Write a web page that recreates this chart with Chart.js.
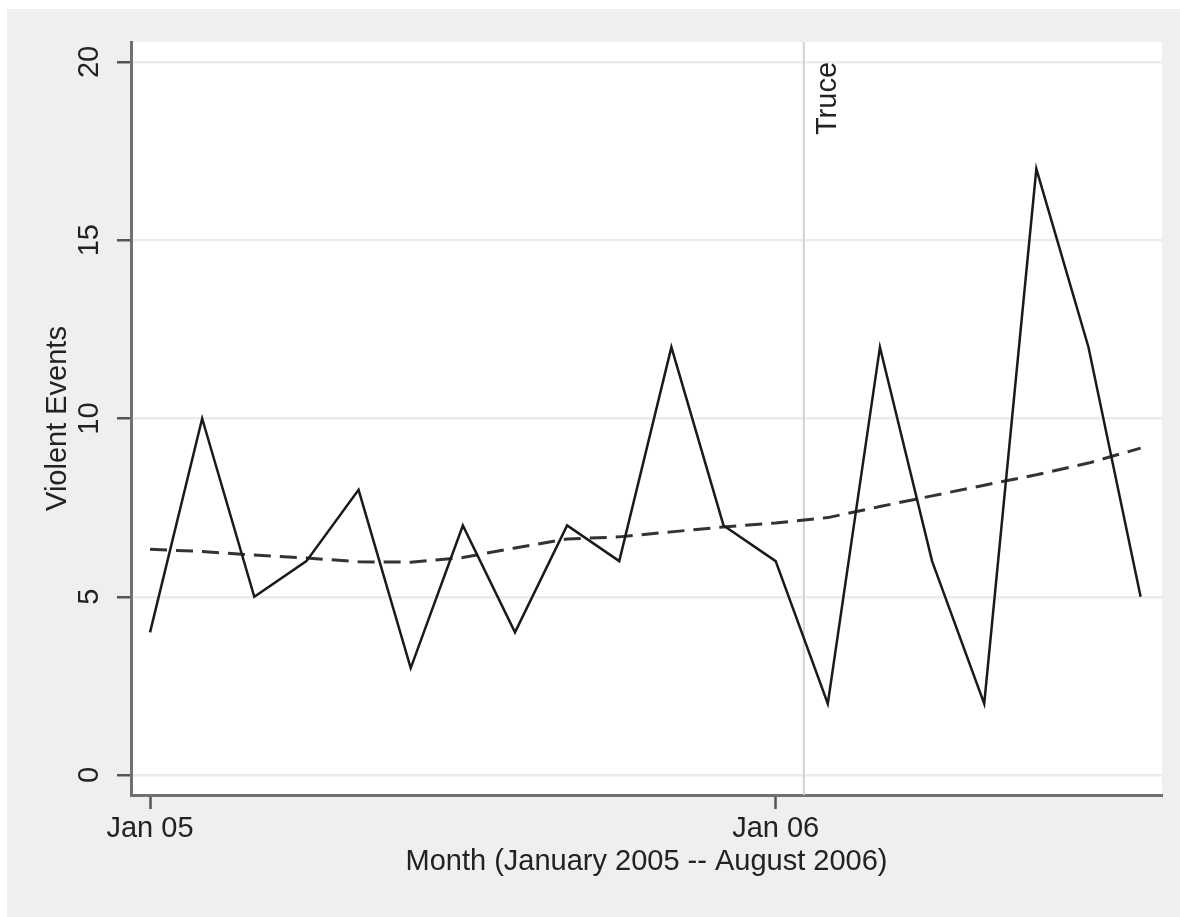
<!DOCTYPE html>
<html>
<head>
<meta charset="utf-8">
<script src="https://cdn.jsdelivr.net/npm/chart.js@4/dist/chart.umd.min.js"></script>
<style>
  html, body { margin: 0; padding: 0; background: #fff; }
</style>
</head>
<body>
<canvas id="myChart" width="1180" height="917"></canvas>
<script>
// monthly counts, Jan 2005 .. Aug 2006
var months = ['Jan 05', 'Feb 05', 'Mar 05', 'Apr 05', 'May 05', 'Jun 05', 'Jul 05', 'Aug 05', 'Sep 05', 'Oct 05', 'Nov 05', 'Dec 05',
              'Jan 06', 'Feb 06', 'Mar 06', 'Apr 06', 'May 06', 'Jun 06', 'Jul 06', 'Aug 06'];
var events = [4, 10, 5, 6, 8, 3, 7, 4, 7, 6, 12, 7, 6, 2, 12, 6, 2, 17, 12, 5];
// smoothed trend (dashed)
var trend = [6.33, 6.27, 6.17, 6.09, 5.98, 5.97, 6.10, 6.37, 6.62, 6.68, 6.82, 6.96, 7.07, 7.22, 7.53, 7.83, 8.13, 8.42, 8.75, 9.17];
var xTickLabels = ['Jan 05', 'Jan 06'];
var yTicks = [0, 5, 10, 15, 20];
var truceMonth = 12.54;
var truceText = 'Truce';

var fontFamily = '"Liberation Sans", Arial, sans-serif';
var fontSize = 29;
var textColor = '#222222';

function toPoints(values) {
    return values.map(function (v, i) { return {x: i, y: v}; });
}

// gray backdrop, white plot region, truce marker, rotated y labels
var stataLook = {
    id: 'stataLook',
    beforeDraw: function (chart) {
        var ctx = chart.ctx, a = chart.chartArea;
        ctx.save();
        ctx.fillStyle = '#ffffff';
        ctx.fillRect(0, 0, chart.width, chart.height);
        ctx.fillStyle = '#efefef';
        ctx.fillRect(7, 9, chart.width - 7, chart.height - 9);
        ctx.fillStyle = '#ffffff';
        ctx.fillRect(a.left, a.top, a.right - a.left, a.bottom - a.top);
        ctx.restore();
    },
    beforeDatasetsDraw: function (chart) {
        var ctx = chart.ctx, a = chart.chartArea;
        var x = chart.scales.x.getPixelForValue(truceMonth);
        ctx.save();
        ctx.strokeStyle = '#d2d2d2';
        ctx.lineWidth = 2;
        ctx.beginPath();
        ctx.moveTo(x, a.top);
        ctx.lineTo(x, a.bottom);
        ctx.stroke();
        // label runs upward, ending level with the top tick
        ctx.translate(x + 24, chart.scales.y.getPixelForValue(yTicks[yTicks.length - 1]));
        ctx.rotate(-Math.PI / 2);
        ctx.font = fontSize + 'px ' + fontFamily;
        ctx.fillStyle = textColor;
        ctx.textAlign = 'right';
        ctx.textBaseline = 'middle';
        ctx.fillText(truceText, 0, 0);
        ctx.restore();
    },
    afterDraw: function (chart) {
        var ctx = chart.ctx, y = chart.scales.y;
        ctx.save();
        ctx.font = fontSize + 'px ' + fontFamily;
        ctx.fillStyle = textColor;
        ctx.textAlign = 'center';
        ctx.textBaseline = 'middle';
        yTicks.forEach(function (v) {
            ctx.save();
            ctx.translate(90, y.getPixelForValue(v));
            ctx.rotate(-Math.PI / 2);
            ctx.fillText(String(v), 0, 0);
            ctx.restore();
        });
        ctx.restore();
    }
};

var font = {family: fontFamily, size: fontSize, lineHeight: 1};

var myChart = new Chart(document.getElementById('myChart'), {
    type: 'line',
    data: {
        datasets: [
            {
                label: 'Violent Events',
                data: toPoints(events),
                borderColor: '#1a1a1a',
                borderWidth: 2.5,
                pointRadius: 0,
                fill: false,
                tension: 0
            },
            {
                label: 'Trend',
                data: toPoints(trend),
                borderColor: '#333333',
                borderWidth: 3,
                borderDash: [17, 9],
                pointRadius: 0,
                fill: false,
                tension: 0
            }
        ]
    },
    options: {
        responsive: false,
        animation: false,
        layout: {padding: {left: 0, top: 42, right: 18, bottom: 0}},
        plugins: {legend: {display: false}, tooltip: {enabled: false}},
        scales: {
            x: {
                type: 'linear',
                min: -0.365,
                max: 19.41,
                afterFit: function (s) { s.height = 122; },
                afterBuildTicks: function (s) {
                    s.ticks = xTickLabels.map(function (l) { return {value: months.indexOf(l)}; });
                },
                ticks: {
                    callback: function (v) { return months[v]; },
                    font: font,
                    color: textColor,
                    padding: 5,
                    maxRotation: 0,
                    autoSkip: false
                },
                grid: {drawOnChartArea: false, drawTicks: true, tickLength: 14, tickColor: '#555555', tickWidth: 2.5},
                border: {color: '#707070', width: 3},
                title: {
                    display: true,
                    text: 'Month (January 2005 -- August 2006)',
                    font: font,
                    color: textColor,
                    padding: {top: 0, bottom: 41}
                }
            },
            y: {
                min: -0.56,
                max: 20.56,
                afterFit: function (s) { s.width = 131; },
                afterBuildTicks: function (s) {
                    s.ticks = yTicks.map(function (v) { return {value: v}; });
                },
                ticks: {display: false},
                grid: {color: '#ebebeb', lineWidth: 2.5, tickLength: 14, tickColor: '#555555', tickWidth: 2.5},
                border: {color: '#707070', width: 3},
                title: {
                    display: true,
                    text: 'Violent Events',
                    font: font,
                    color: textColor,
                    padding: {top: 43, bottom: 0}
                }
            }
        }
    },
    plugins: [stataLook]
});
</script>
</body>
</html>
